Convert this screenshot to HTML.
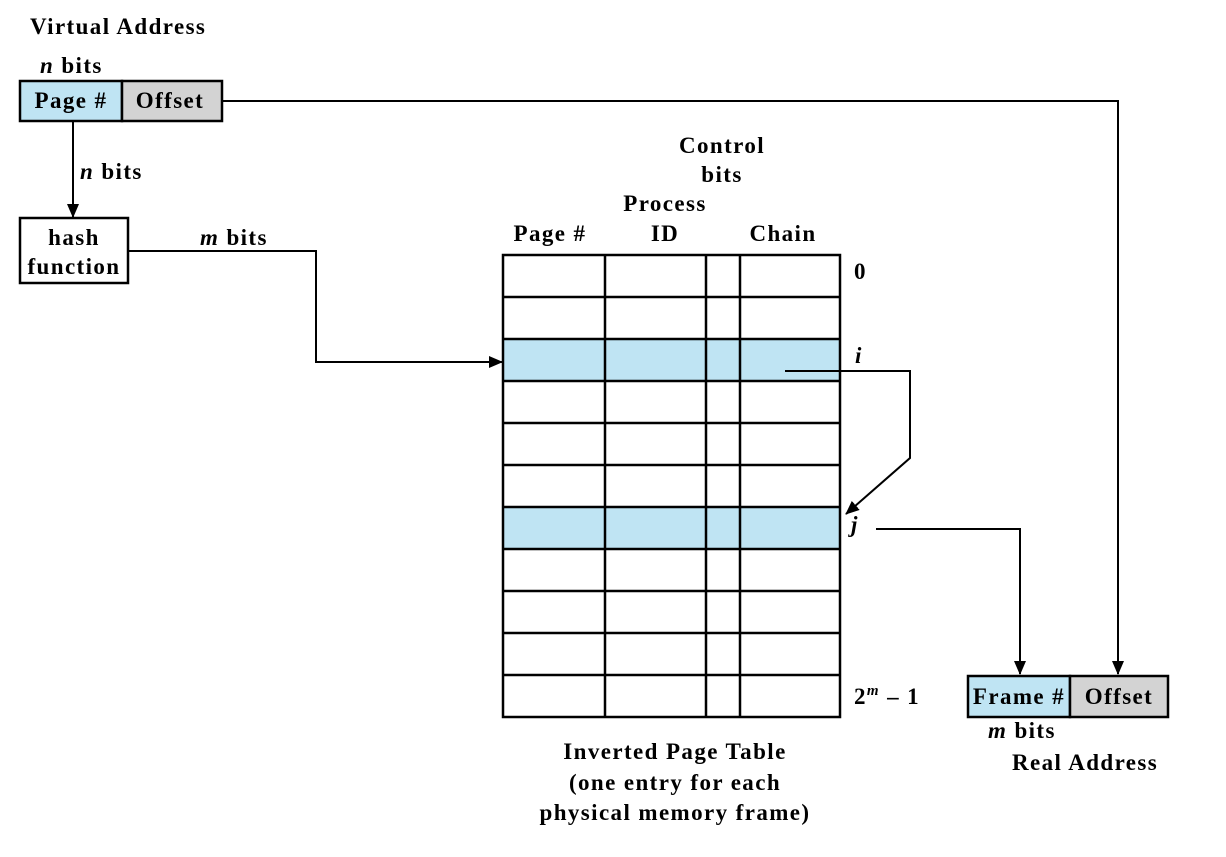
<!DOCTYPE html>
<html><head><meta charset="utf-8"><style>
body{margin:0;background:#fff;width:1226px;height:852px;overflow:hidden}
svg text{font-family:"Liberation Serif",serif;font-weight:bold;font-size:23px;letter-spacing:1.4px;fill:#000}
</style></head><body>
<svg width="1226" height="852" viewBox="0 0 1226 852" xmlns="http://www.w3.org/2000/svg">
<defs><marker id="b" viewBox="0 0 14 12" refX="13" refY="6" markerWidth="14" markerHeight="12" markerUnits="userSpaceOnUse" orient="auto"><path d="M0,0L14,6L0,12z" fill="#000"/></marker></defs>
<text x="30" y="34">Virtual Address</text>
<text x="40" y="73"><tspan font-style="italic">n</tspan> bits</text>
<rect x="20" y="81" width="102" height="40" fill="#bfe4f3" stroke="#000" stroke-width="2.5"/>
<rect x="122" y="81" width="100" height="40" fill="#d3d3d3" stroke="#000" stroke-width="2.5"/>
<text x="71" y="108" text-anchor="middle">Page #</text>
<text x="170" y="108" text-anchor="middle">Offset</text>
<polyline points="222,101 1118,101 1118,674" fill="none" stroke="#000" stroke-width="2" marker-end="url(#b)"/>
<line x1="73" y1="121" x2="73" y2="217" stroke="#000" stroke-width="2" marker-end="url(#b)"/>
<text x="80" y="179"><tspan font-style="italic">n</tspan> bits</text>
<rect x="20" y="218" width="108" height="65" fill="#fff" stroke="#000" stroke-width="2.5"/>
<text x="74" y="245" text-anchor="middle">hash</text>
<text x="74" y="274" text-anchor="middle">function</text>
<text x="200" y="245"><tspan font-style="italic">m</tspan> bits</text>
<polyline points="128,251 316,251 316,362 502,362" fill="none" stroke="#000" stroke-width="2" marker-end="url(#b)"/>
<text x="722" y="153" text-anchor="middle">Control</text>
<text x="722" y="182" text-anchor="middle">bits</text>
<text x="665" y="211" text-anchor="middle">Process</text>
<text x="665" y="241" text-anchor="middle">ID</text>
<text x="550" y="241" text-anchor="middle">Page #</text>
<text x="783" y="241" text-anchor="middle">Chain</text>
<rect x="503" y="340" width="337" height="41" fill="#bfe4f3"/>
<rect x="503" y="507" width="337" height="42" fill="#bfe4f3"/>
<g stroke="#000" stroke-width="2.5" fill="none">
<rect x="503" y="255" width="337" height="462"/>
<line x1="605" y1="255" x2="605" y2="717"/><line x1="706" y1="255" x2="706" y2="717"/><line x1="740" y1="255" x2="740" y2="717"/>
<line x1="503" y1="297" x2="840" y2="297"/><line x1="503" y1="339" x2="840" y2="339"/><line x1="503" y1="381" x2="840" y2="381"/><line x1="503" y1="423" x2="840" y2="423"/><line x1="503" y1="465" x2="840" y2="465"/><line x1="503" y1="507" x2="840" y2="507"/><line x1="503" y1="549" x2="840" y2="549"/><line x1="503" y1="591" x2="840" y2="591"/><line x1="503" y1="633" x2="840" y2="633"/><line x1="503" y1="675" x2="840" y2="675"/>
</g>
<text x="854" y="279">0</text>
<text x="855" y="363" font-style="italic">i</text>
<text x="851" y="532" font-style="italic">j</text>
<text x="854" y="704">2<tspan font-size="15" dy="-9" font-style="italic">m</tspan><tspan dy="9"> – 1</tspan></text>
<polyline points="785,371 910,371 910,458 846,514" fill="none" stroke="#000" stroke-width="2" marker-end="url(#b)"/>
<polyline points="876,529 1020,529 1020,674" fill="none" stroke="#000" stroke-width="2" marker-end="url(#b)"/>
<rect x="968" y="676" width="102" height="41" fill="#bfe4f3" stroke="#000" stroke-width="2.5"/>
<rect x="1070" y="676" width="98" height="41" fill="#d3d3d3" stroke="#000" stroke-width="2.5"/>
<text x="1019" y="704" text-anchor="middle" letter-spacing="0.3">Frame #</text>
<text x="1119" y="704" text-anchor="middle">Offset</text>
<text x="988" y="738"><tspan font-style="italic">m</tspan> bits</text>
<text x="1012" y="770">Real Address</text>
<text x="675" y="759" text-anchor="middle">Inverted Page Table</text>
<text x="675" y="790" text-anchor="middle">(one entry for each</text>
<text x="675" y="820" text-anchor="middle">physical memory frame)</text>
</svg>
</body></html>
